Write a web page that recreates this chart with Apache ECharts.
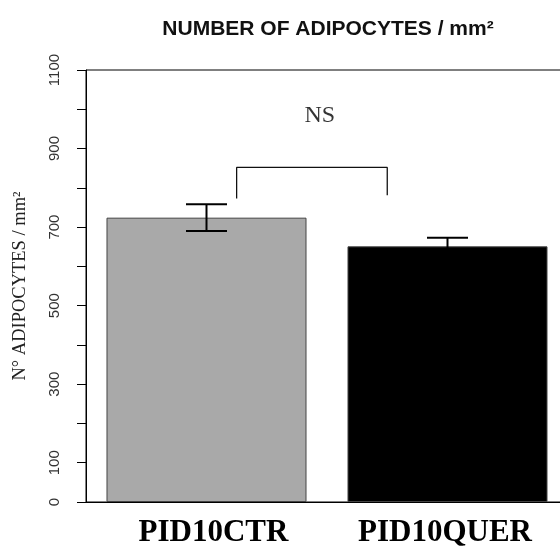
<!DOCTYPE html>
<html><head><meta charset="utf-8">
<script src="https://cdn.jsdelivr.net/npm/echarts@6/dist/echarts.min.js"></script>
<style>html,body{margin:0;padding:0;background:#fff;overflow:hidden}#c{width:560px;height:546px}</style>
</head><body><div id="c"></div>
<script>
const categories = ['PID10CTR', 'PID10QUER'];
const means = [724, 651];
const errors = [34, 22];
const yTickLabels = [0, 100, 300, 500, 700, 900, 1100];
const bracketX = [0.125, 0.75];
const bracketY = [773, 852, 781];
const nsPos = [0.47, 983];
const barColors = ['#a9a9a9', '#000000'];

const labelFont = {fontFamily: 'Liberation Serif', fontWeight: 'bold', fontSize: 31, color: '#000'};
const chart = echarts.init(document.getElementById('c'));
chart.setOption({
  animation: false,
  title: {
    text: 'NUMBER OF ADIPOCYTES / mm²',
    left: 323, top: 14, textAlign: 'center',
    textStyle: {fontFamily: 'Liberation Sans', fontWeight: 'bold', fontSize: 21, color: '#111'}
  },
  grid: {left: 86, top: 70, bottom: 44, right: -8, outerBoundsMode: 'none', containLabel: false,
    show: true, borderColor: '#000', borderWidth: 1},
  xAxis: [{
    type: 'category', data: categories,
    axisLine: {lineStyle: {color: '#000'}},
    axisTick: {alignWithLabel: true, interval: 0, length: 10, lineStyle: {color: '#000'}},
    axisLabel: Object.assign({}, labelFont, {
      margin: 15, interval: 0, hideOverlap: false,
      formatter: (v, i) => i === 0 ? '{a|' + v + '}' : '{b|' + v + '}',
      rich: {
        a: Object.assign({}, labelFont, {padding: [0, 0, 0, 14]}),
        b: Object.assign({}, labelFont, {padding: [0, 5, 0, 0]})
      }
    })
  }, {
    type: 'value', min: -0.5, max: 1.5, show: false
  }],
  yAxis: {
    type: 'value', min: 0, max: 1100, interval: 100,
    name: 'N° ADIPOCYTES / mm²', nameLocation: 'middle', nameRotate: 90, nameGap: 56,
    nameTextStyle: {fontFamily: 'Liberation Serif', fontSize: 18.5, color: '#222'},
    splitLine: {show: false},
    axisLine: {show: true, onZero: false, lineStyle: {color: '#000'}},
    axisTick: {show: true, length: 9, lineStyle: {color: '#000'}},
    axisLabel: {
      rotate: 90, margin: 24, fontFamily: 'Liberation Sans', fontSize: 15, color: '#333',
      formatter: v => yTickLabels.includes(v) ? String(v) : ''
    }
  },
  series: [{
    type: 'bar', barWidth: '83%',
    data: means.map((v, i) => ({value: v, itemStyle: {color: barColors[i], borderColor: '#444', borderWidth: 1}}))
  }, {
    type: 'custom',
    data: means.map((m, i) => [i, m, errors[i]]),
    renderItem: function (params, api) {
      const i = api.value(0), m = api.value(1), e = api.value(2);
      const top = api.coord([i, m + e]);
      const bot = api.coord([i, m - e]);
      const hw = 20.5;
      const st = {stroke: '#000', lineWidth: 2};
      return {type: 'group', children: [
        {type: 'line', shape: {x1: top[0], y1: top[1], x2: bot[0], y2: bot[1]}, style: st},
        {type: 'line', shape: {x1: top[0] - hw, y1: top[1], x2: top[0] + hw, y2: top[1]}, style: st},
        {type: 'line', shape: {x1: bot[0] - hw, y1: bot[1], x2: bot[0] + hw, y2: bot[1]}, style: st}
      ]};
    },
    z: 5
  }, {
    type: 'line', xAxisIndex: 1, symbol: 'none', silent: true,
    lineStyle: {color: '#111', width: 1.3},
    data: [[bracketX[0], bracketY[0]], [bracketX[0], bracketY[1]], [bracketX[1], bracketY[1]], [bracketX[1], bracketY[2]]]
  }, {
    type: 'scatter', xAxisIndex: 1, symbolSize: 1, itemStyle: {color: 'transparent'},
    data: [nsPos],
    label: {show: true, position: 'inside', formatter: 'NS', fontFamily: 'Liberation Serif', fontSize: 24, color: '#000'}
  }]
});
</script></body></html>
